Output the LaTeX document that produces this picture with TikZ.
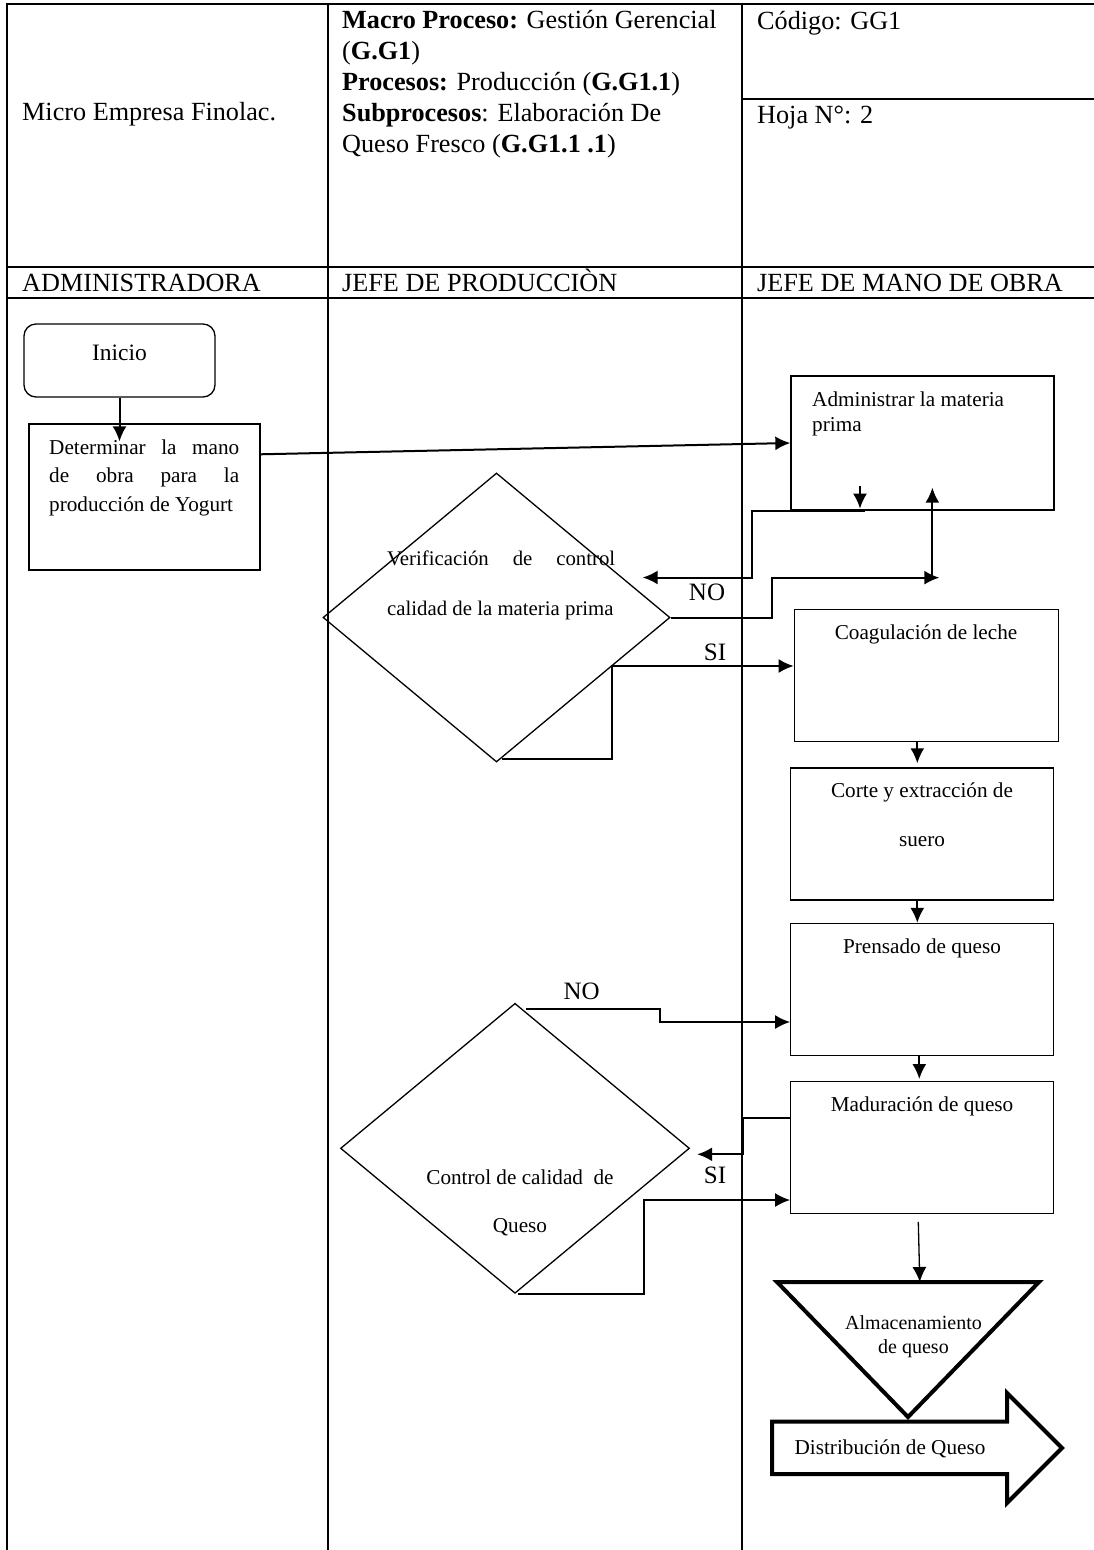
\documentclass[tikz,border=0pt]{standalone}
\usepackage{fontspec}
\setmainfont{Liberation Serif}
\usetikzlibrary{calc,arrows.meta,shapes.geometric}
\hyphenpenalty=10000
\exhyphenpenalty=10000
\tolerance=10000
\newcommand{\fz}[2]{\fontsize{#1}{#2}\selectfont}

\begin{document}
\begin{tikzpicture}[x=1pt,y=-1pt,>={Latex[length=15pt,width=14pt]},
    linea/.style={line width=1.5pt},
    caja/.style={draw,line width=1.3pt,inner sep=0pt},
    rombo/.style={draw,diamond,line width=1.3pt,inner sep=0pt},
    flecha/.style={->,line width=2pt},
    cab/.style={inner sep=0pt,anchor=base west,font=\fz{26.2}{31}},
    txt/.style={inner sep=0pt,font=\fz{21.2}{28.4}},
    etq/.style={inner sep=0pt,anchor=base,font=\fz{25}{30}}]
    \useasboundingbox (0,0) rectangle (1094,1550);
    % tabla y carriles
    \draw[line width=2.5pt] (6,4)--(1094,4);
    \draw[linea] (7,4)--(7,1550);
    \draw[linea] (328,4)--(328,1550);
    \draw[linea] (742,4)--(742,1550);
    \draw[linea] (742,99)--(1094,99);
    \draw[line width=2pt] (7,267)--(1094,267);
    \draw[line width=2.5pt] (7,298)--(1094,298);
    \node[cab] (empresa) at (22,120) {Micro Empresa Finolac.};
    \node[cab,anchor=north west,align=left] (macro) at (342,10) {\textbf{Macro Proceso:} Gestión Gerencial\\(\textbf{G.G1})\\\textbf{Procesos:} Producción (\textbf{G.G1.1})\\\textbf{Subprocesos}: Elaboración De\\Queso Fresco (\textbf{G.G1.1 .1})};
    \node[cab] (codigo) at (757,29) {Código: GG1};
    \node[cab] (hoja) at (757,123) {Hoja N°: 2};
    \node[cab] (rol1) at (22,291) {ADMINISTRADORA};
    \node[cab] (rol2) at (342,291) {JEFE DE PRODUCCIÒN};
    \node[cab] (rol3) at (757,291) {JEFE DE MANO DE OBRA};
    % administradora
    \node[caja,rounded corners=12pt,minimum width=191pt,minimum height=73pt] (inicio) at (119.5,360.5) {};
    \node[txt,anchor=base,font=\fz{23.5}{28}] (tinicio) at (119.5,360) {Inicio};
    \node[caja,minimum width=231pt,minimum height=146pt] (det) at (144.5,497) {};
    \node[txt,anchor=north west,text width=190pt,align=justify] (tdet) at (49,439.5) {Determinar la mano\linebreak de obra para la\linebreak producción de Yogurt};
    % jefe de mano de obra
    \node[caja,minimum width=263pt,minimum height=134pt] (adm) at (922.5,443) {};
    \node[txt,anchor=north west,align=left,font=\fz{21.2}{25}] (tadm) at (812,391.5) {Administrar la materia\\prima};
    \node[caja,minimum width=264pt,minimum height=132pt] (coag) at (926.3,675.5) {};
    \node[txt,anchor=base] (tcoag) at (926,639) {Coagulación de leche};
    \node[caja,minimum width=263pt,minimum height=132pt] (corte) at (922.3,833.9) {};
    \node[txt,anchor=north,align=center,font=\fz{21.2}{49}] (tcorte) at (922,783) {Corte y extracción de\\suero};
    \node[caja,minimum width=263pt,minimum height=132pt] (prens) at (922.3,989.5) {};
    \node[txt,anchor=base] (tprens) at (922,953) {Prensado de queso};
    \node[caja,minimum width=263pt,minimum height=131.6pt] (mad) at (922.3,1147.5) {};
    \node[txt,anchor=base] (tmad) at (922,1111) {Maduración de queso};
    % jefe de produccion
    \node[rombo,minimum width=347pt,minimum height=289pt] (d1) at (496.5,617.5) {};
    \node[txt,anchor=north west,text width=228pt,align=justify,font=\fz{20.8}{50}] (td1) at (387,551) {Verificación de control\linebreak calidad de la materia prima};
    \node[rombo,minimum width=349pt,minimum height=290pt] (d2) at (515,1148.3) {};
    \node[txt,anchor=north,align=center,font=\fz{21.2}{48.5}] (td2) at (520,1169.5) {Control de calidad\ \ de\\Queso};
    % almacenamiento y distribucion
    \coordinate (almA) at (777,1282);
    \coordinate (almB) at (1039,1282);
    \coordinate (almC) at (908,1417);
    \draw[line width=4pt,fill=white] (772,1421.5) -- (1007,1421.5) -- (1007,1393) -- (1062,1448) -- (1007,1503) -- (1007,1474) -- (772,1474) -- cycle;
    \draw[line width=4pt] (almA) -- (almB) -- (almC) -- cycle;
    \node[txt,anchor=north,align=center,font=\fz{20}{24}] (talm) at (913.5,1315.5) {Almacenamiento\\de queso};
    \node[txt,anchor=base] (tdist) at (890,1454) {Distribución de Queso};
    % conectores
    \draw[flecha] (inicio.south) -- ([yshift=-18pt]inicio.south |- det.north);
    \draw[flecha] ($(det.north east)!0.21!(det.south east)$) -- (adm.west);
    \draw[flecha] ([xshift=-62.5pt,yshift=25pt]adm.south) -- ([xshift=-62.5pt,yshift=2pt]adm.south);
    \draw[flecha] ([xshift=-57.5pt]adm.south) -- ([xshift=-38pt]adm.south west) |- ($(d1.east)+(-28,-40)$);
    \coordinate (cruce) at ($(adm.south west)+(142,67)$);
    \draw[flecha] (d1.east) -- ++(101,0) |- ([xshift=7pt]cruce);
    \draw[flecha] (cruce) -- ([yshift=23pt]cruce |- adm.south);
    \draw[flecha] ($(d1.south)+(5,-4)$) -- ++(110,0) |- ([yshift=9.5pt]coag.west);
    \node[etq] (no1) at (707,600) {NO};
    \node[etq] (si1) at (715,660) {SI};
    \draw[flecha] ([xshift=-9pt]coag.south) -- ([xshift=-9pt,yshift=4pt]coag.south |- corte.north);
    \draw[flecha] ([xshift=-5pt]corte.south) -- ([xshift=-5pt]corte.south |- prens.north);
    \draw[flecha] ([xshift=-3pt]prens.south) -- ([xshift=-3pt,yshift=2pt]prens.south |- mad.north);
    \draw[line width=1.3pt,->] ([xshift=-4pt,yshift=-8pt]mad.south) -- ($(almA)!0.545!(almB)$);
    \draw[flecha] ($(d2.north)+(11,6)$) -- ++(134,0) |- ([yshift=-32.5pt]prens.west);
    \draw[flecha] ([yshift=-37pt]mad.north west) -- ++(-47,0) |- ($(d2.east)+(7,6)$);
    \draw[flecha] ([xshift=3pt]d2.south) -- ++(125.5,0) |- ([yshift=-52.5pt]mad.west);
    \node[etq] (no2) at (581.7,999) {NO};
    \node[etq] (si2) at (715,1183) {SI};
\end{tikzpicture}
\end{document}
